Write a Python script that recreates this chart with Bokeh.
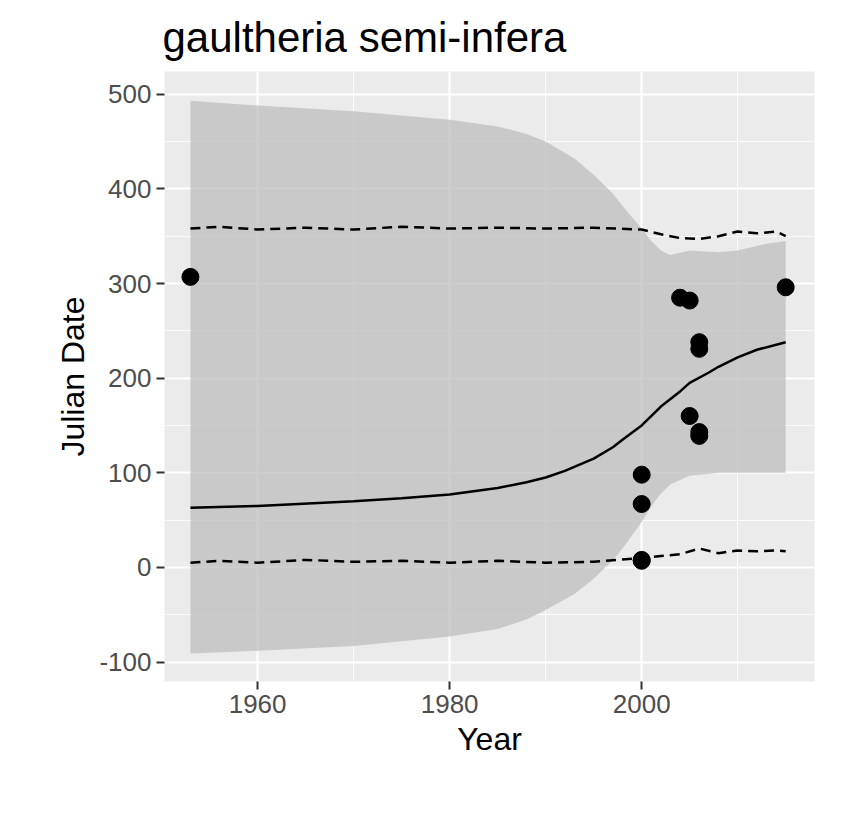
from bokeh.plotting import figure
from bokeh.embed import file_html
from bokeh.resources import INLINE
from bokeh.models import Range1d, FixedTicker

pt_year = [1953, 2000, 2000, 2000, 2000, 2004, 2005, 2005, 2006, 2006, 2006, 2006, 2015]
pt_jd = [307, 98, 67, 7, 8, 285, 282, 160, 238, 231, 143, 139, 296]

fit_year = [1953, 1960, 1970, 1975, 1980, 1985, 1988, 1990, 1992, 1995, 1997, 1998, 2000, 2002, 2004, 2005, 2007, 2008, 2010, 2012, 2015]
fit_jd = [63, 65, 70, 73, 77, 84, 90, 95, 102, 115, 127, 135, 150, 170, 186, 195, 206, 212, 222, 230, 238]

rib_year = [1953, 1960, 1970, 1980, 1985, 1988, 1990, 1993, 1995, 1997, 1998, 2000, 2001, 2002, 2003, 2005, 2008, 2010, 2013, 2015]
rib_hi = [493, 488, 482, 473, 466, 458, 450, 432, 415, 395, 382, 358, 345, 335, 330, 335, 333, 335, 342, 345]
rib_lo = [-91, -88, -83, -73, -65, -55, -45, -28, -12, 8, 20, 48, 65, 78, 88, 97, 100, 100, 100, 100]

dash_year = [1953, 1956, 1960, 1965, 1970, 1975, 1980, 1985, 1990, 1995, 2000, 2002, 2004, 2006, 2008, 2010, 2012, 2014, 2015]
dash_hi = [358, 360, 357, 359, 357, 360, 358, 359, 358, 359, 357, 352, 348, 347, 350, 355, 353, 355, 350]
dash_lo = [5, 7, 5, 8, 6, 7, 5, 7, 5, 6, 10, 12, 14, 20, 15, 18, 17, 18, 17]

p = figure(frame_width=650, frame_height=610, output_backend="svg", toolbar_location=None,
           x_range=Range1d(1950.3, 2018.0), y_range=Range1d(-120.5, 524),
           title="gaultheria semi-infera", min_border_left=164, min_border_right=10, min_border_bottom=10)
p.title.text_font = "Liberation Sans"
p.title.text_font_size = "42px"
p.title.text_font_style = "normal"
p.title.text_color = "black"
p.title.offset = -2
p.title.standoff = 22
p.background_fill_color = "#EBEBEB"
p.outline_line_color = None
for ax in (p.xaxis, p.yaxis):
    ax.axis_line_color = None
    ax.major_tick_line_color = "#333333"
    ax.major_tick_line_width = 2
    ax.major_tick_out = 8
    ax.major_tick_in = 0
    ax.minor_tick_line_color = None
    ax.major_label_text_font = "Liberation Sans"
    ax.major_label_text_font_size = "26px"
    ax.major_label_text_color = "#4D4D4D"
    ax.axis_label_text_font = "Liberation Sans"
    ax.axis_label_text_font_size = "32px"
    ax.axis_label_text_font_style = "normal"
    ax.axis_label_text_color = "black"
p.xaxis.axis_label = "Year"
p.yaxis.axis_label = "Julian Date"
p.yaxis.major_label_overrides = {-100: "-100"}
p.xaxis.ticker = FixedTicker(ticks=[1960, 1980, 2000], minor_ticks=[1950, 1970, 1990, 2010])
p.yaxis.ticker = FixedTicker(ticks=[-100, 0, 100, 200, 300, 400, 500], minor_ticks=[-50, 50, 150, 250, 350, 450])
p.grid.grid_line_color = "white"
p.grid.grid_line_width = 2
p.grid.minor_grid_line_color = "white"
p.grid.minor_grid_line_width = 1
p.grid.minor_grid_line_alpha = 0.8

p.varea(x=rib_year, y1=rib_lo, y2=rib_hi, fill_color="#BEBEBE", fill_alpha=0.75)
p.line(dash_year, dash_hi, line_color="black", line_width=2.5, line_dash="10 6")
p.line(dash_year, dash_lo, line_color="black", line_width=2.5, line_dash="10 6")
p.line(fit_year, fit_jd, line_color="black", line_width=2.5)
p.scatter(pt_year, pt_jd, size=17, color="black")

open("out.html", "w").write(file_html(p, INLINE))
